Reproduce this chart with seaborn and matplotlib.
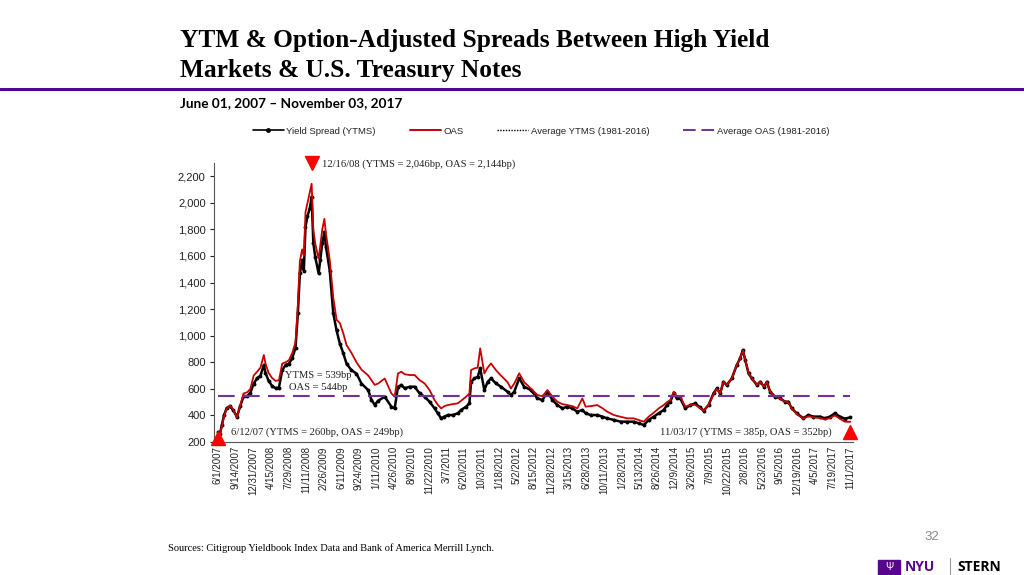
import numpy as np
import pandas as pd
import matplotlib
matplotlib.use("Agg")
import matplotlib.pyplot as plt
import matplotlib.transforms as mtrans
from matplotlib.lines import Line2D
from matplotlib.patches import Rectangle
from matplotlib.ticker import FuncFormatter
import seaborn as sns

# ---------------- data ----------------
dates = [
    "2007-06-01", "2007-06-12", "2007-06-25", "2007-07-07", "2007-07-23", "2007-08-12",
    "2007-08-31", "2007-09-23", "2007-10-13", "2007-11-02", "2007-11-25", "2007-12-13",
    "2008-01-02", "2008-01-23", "2008-02-12", "2008-03-03", "2008-03-13", "2008-04-01",
    "2008-04-23", "2008-05-13", "2008-06-02", "2008-06-22", "2008-07-12", "2008-08-01",
    "2008-08-21", "2008-09-10", "2008-09-24", "2008-10-06", "2008-10-20", "2008-10-30",
    "2008-11-09", "2008-11-21", "2008-12-05", "2008-12-16", "2008-12-26", "2009-01-07",
    "2009-01-27", "2009-02-06", "2009-02-18", "2009-03-03", "2009-03-12", "2009-04-04",
    "2009-04-25", "2009-05-15", "2009-06-04", "2009-06-24", "2009-07-14", "2009-08-13",
    "2009-09-12", "2009-10-12", "2009-11-22", "2009-12-11", "2009-12-31", "2010-01-20",
    "2010-03-01", "2010-04-10", "2010-04-30", "2010-05-20", "2010-06-09", "2010-06-29",
    "2010-07-29", "2010-08-28", "2010-09-27", "2010-10-27", "2010-11-26", "2010-12-26",
    "2011-01-15", "2011-02-04", "2011-02-24", "2011-03-16", "2011-04-15", "2011-05-15",
    "2011-06-04", "2011-07-04", "2011-07-24", "2011-08-03", "2011-08-23", "2011-09-12",
    "2011-09-27", "2011-10-22", "2011-11-11", "2011-12-01", "2011-12-31", "2012-01-30",
    "2012-03-10", "2012-03-30", "2012-04-19", "2012-05-19", "2012-06-18", "2012-07-28",
    "2012-09-06", "2012-10-06", "2012-11-05", "2012-12-05", "2013-01-04", "2013-02-03",
    "2013-03-05", "2013-04-04", "2013-05-04", "2013-06-03", "2013-06-23", "2013-07-23",
    "2013-09-01", "2013-10-01", "2013-10-31", "2013-12-10", "2014-01-19", "2014-02-28",
    "2014-04-09", "2014-05-09", "2014-06-08", "2014-07-08", "2014-08-07", "2014-09-06",
    "2014-10-06", "2014-10-26", "2014-11-15", "2014-12-05", "2014-12-25", "2015-01-14",
    "2015-02-13", "2015-03-15", "2015-04-14", "2015-05-14", "2015-06-03", "2015-07-03",
    "2015-08-02", "2015-08-22", "2015-09-11", "2015-10-01", "2015-10-21", "2015-11-20",
    "2015-12-20", "2016-01-09", "2016-01-26", "2016-02-09", "2016-02-29", "2016-03-20",
    "2016-04-19", "2016-05-09", "2016-06-02", "2016-06-18", "2016-07-08", "2016-08-07",
    "2016-09-06", "2016-10-06", "2016-10-26", "2016-11-15", "2016-12-15", "2017-01-24",
    "2017-02-23", "2017-03-25", "2017-05-04", "2017-06-03", "2017-07-03", "2017-08-02",
    "2017-09-01", "2017-10-01", "2017-11-03",
]
ytms = [
    275, 260, 330, 400, 455, 470, 440, 390, 470, 545, 545, 570,
    640, 680, 700, 780, 720, 660, 620, 605, 610, 740, 780, 790,
    830, 910, 1170, 1470, 1570, 1490, 1820, 1900, 1960, 2046, 1700, 1590,
    1470, 1570, 1700, 1780, 1670, 1490, 1170, 1040, 940, 870, 790, 740,
    715, 640, 590, 516, 480, 510, 541, 466, 453, 616, 629, 604,
    616, 616, 566, 541, 503, 453, 416, 378, 391, 403, 403, 416,
    441, 466, 491, 653, 678, 691, 754, 591, 653, 678, 641, 616,
    578, 553, 578, 679, 616, 591, 528, 516, 578, 516, 478, 453,
    466, 453, 428, 441, 416, 403, 403, 391, 378, 366, 353, 353,
    353, 341, 328, 366, 391, 416, 441, 478, 503, 566, 528, 528,
    453, 478, 490, 460, 435, 478, 566, 603, 566, 653, 629, 678,
    779, 829, 892, 817, 716, 678, 629, 653, 616, 653, 578, 541,
    528, 503, 503, 453, 416, 378, 403, 391, 391, 378, 391, 416,
    391, 376, 385,
]
oas = [
    265, 249, 320, 390, 450, 475, 445, 385, 475, 565, 575, 600,
    700, 730, 760, 855, 790, 720, 680, 660, 665, 790, 800, 815,
    870, 950, 1230, 1560, 1650, 1600, 1930, 2000, 2080, 2144, 1800, 1690,
    1580, 1680, 1800, 1880, 1770, 1570, 1290, 1120, 1095, 1020, 930, 870,
    800, 745, 700, 666, 630, 640, 678, 566, 541, 716, 729, 710,
    704, 704, 666, 641, 591, 516, 480, 453, 470, 478, 485, 491,
    510, 541, 566, 741, 754, 760, 905, 716, 760, 791, 741, 700,
    650, 603, 640, 717, 650, 603, 553, 545, 591, 541, 503, 485,
    478, 470, 453, 528, 466, 470, 478, 455, 428, 403, 390, 378,
    378, 365, 353, 391, 420, 453, 478, 500, 516, 578, 541, 541,
    466, 478, 480, 453, 435, 478, 560, 600, 566, 653, 629, 678,
    779, 829, 887, 820, 720, 680, 629, 653, 616, 653, 578, 541,
    528, 503, 500, 453, 410, 375, 395, 385, 380, 370, 380, 400,
    375, 353, 352,
]
avg_ytms = 539
avg_oas = 544
tick_labels = [
    "6/1/2007", "9/14/2007", "12/31/2007", "4/15/2008", "7/29/2008", "11/11/2008",
    "2/26/2009", "6/11/2009", "9/24/2009", "1/11/2010", "4/26/2010", "8/9/2010",
    "11/22/2010", "3/7/2011", "6/20/2011", "10/3/2011", "1/18/2012", "5/2/2012",
    "8/15/2012", "11/28/2012", "3/15/2013", "6/28/2013", "10/11/2013", "1/28/2014",
    "5/13/2014", "8/26/2014", "12/9/2014", "3/26/2015", "7/9/2015", "10/22/2015",
    "2/8/2016", "5/23/2016", "9/5/2016", "12/19/2016", "4/5/2017", "7/19/2017",
    "11/1/2017",
]
y_ticks = [200, 400, 600, 800, 1000, 1200, 1400, 1600, 1800, 2000, 2200]
series_names = ["Yield Spread (YTMS)", "OAS", "Average YTMS (1981-2016)", "Average OAS (1981-2016)"]

# ---------------- styling ----------------
sns.set_theme(style="white")
plt.rcParams['font.family'] = ['Liberation Sans', 'DejaVu Sans']

W, H = 1024, 575
fig = plt.figure(figsize=(W / 100, H / 100), dpi=100)
fig.patch.set_facecolor("white")

def fx(px):
    return px / W

def fy(py):
    return 1 - py / H

ax_l, ax_r, ax_t, ax_b = 214, 853, 163, 442
ax = fig.add_axes([fx(ax_l), fy(ax_b), (ax_r - ax_l) / W, (ax_b - ax_t) / H])
ax.set_facecolor("white")

df = pd.DataFrame({"date": pd.to_datetime(dates), "YTMS": ytms, "OAS": oas})

RED = "#C80000"
PURPLE = "#7030A0"

sns.lineplot(data=df, x="date", y="YTMS", ax=ax, color="black", linewidth=1.8,
             marker="o", markersize=2.8, markeredgewidth=0, zorder=3)
sns.lineplot(data=df, x="date", y="OAS", ax=ax, color=RED, linewidth=1.3, zorder=4)
ax.hlines(avg_oas, df["date"].min(), df["date"].max(), colors=PURPLE,
          linestyles=(0, (8, 4)), linewidth=1.5, zorder=5)

ax.set_xlabel("")
ax.set_ylabel("")
if ax.get_legend() is not None:
    ax.get_legend().remove()

x0 = pd.Timestamp("2007-06-01")
ax.set_xlim(x0 - pd.Timedelta(days=24), x0 + pd.Timedelta(days=3824))
ax.set_ylim(200, 2300)
ax.set_yticks(y_ticks)
ax.yaxis.set_major_formatter(FuncFormatter(lambda v, p: f"{int(v):,}"))
ax.set_xticks(pd.to_datetime(tick_labels, format="%m/%d/%Y"))
ax.set_xticklabels(tick_labels, rotation=90, fontsize=7, color="#222222")
ax.tick_params(axis="y", labelsize=8, colors="#222222", length=3, width=0.8,
               direction="out", left=True, pad=3)
ax.tick_params(axis="x", length=0, pad=3)
for s in ["top", "right"]:
    ax.spines[s].set_visible(False)
for s in ["left", "bottom"]:
    ax.spines[s].set_color("#555555")
    ax.spines[s].set_linewidth(0.8)
ax.grid(False)

# marker triangles for highlighted points
imax = int(np.argmax(ytms))
imin = int(np.argmin(ytms))
blend = mtrans.blended_transform_factory(ax.transData, ax.transAxes)
ax.plot([df["date"].iloc[imax]], [1.0], marker="v", color="#FF0000", markersize=9.5,
        transform=blend, clip_on=False, zorder=6, linestyle="none")
ax.plot([df["date"].iloc[0]], [0.015], marker="^", color="#FF0000", markersize=9.5,
        transform=blend, clip_on=False, zorder=6, linestyle="none")
ax.plot([df["date"].iloc[-1]], [0.036], marker="^", color="#FF0000", markersize=9.5,
        transform=blend, clip_on=False, zorder=6, linestyle="none")

serif = ["Liberation Serif", "DejaVu Serif"]
def axfx(px):
    return (px - ax_l) / (ax_r - ax_l)
def axfy(py):
    return (ax_b - py) / (ax_b - ax_t)

ax.text(axfx(322), axfy(164),
        f"12/16/08 (YTMS = {ytms[imax]:,}bp, OAS = {oas[imax]:,}bp)",
        transform=ax.transAxes, family=serif, fontsize=7.6, va="center", ha="left",
        color="#222222", clip_on=False)
ax.text(axfx(318), axfy(375), f"YTMS = {avg_ytms}bp", transform=ax.transAxes,
        family=serif, fontsize=7.6, va="center", ha="center", color="#222222", zorder=1)
ax.text(axfx(318), axfy(387), f"OAS = {avg_oas}bp", transform=ax.transAxes,
        family=serif, fontsize=7.6, va="center", ha="center", color="#222222", zorder=1)
ax.text(axfx(231), axfy(432),
        f"6/12/07 (YTMS = {ytms[imin]}bp, OAS = {oas[imin]}bp)",
        transform=ax.transAxes, family=serif, fontsize=7.6, va="center", ha="left",
        color="#222222")
ax.text(axfx(660), axfy(432),
        f"11/03/17 (YTMS = {ytms[-1]}p, OAS = {oas[-1]}bp)",
        transform=ax.transAxes, family=serif, fontsize=7.6, va="center", ha="left",
        color="#222222")

# legend
handles = [
    Line2D([], [], color="black", lw=1.2, marker="o", markersize=2.5, markevery=[1]),
    Line2D([], [], color=RED, lw=1.4),
    Line2D([], [], color="black", lw=1.0, ls=(0, (1, 1))),
    Line2D([], [], color=PURPLE, lw=1.4, ls=(0, (6.5, 3))),
]
fig.legend(handles, series_names, loc="center", bbox_to_anchor=(fx(541), fy(131)),
           ncol=4, frameon=False, fontsize=6.8, handlelength=3.3, handletextpad=0.25,
           columnspacing=3.6, labelcolor="#222222")

# titles & page decorations
fig.text(fx(180), fy(40), "YTM & Option-Adjusted Spreads Between High Yield",
         family=serif, fontsize=18.3, fontweight="bold", va="center", ha="left", color="black")
fig.text(fx(180), fy(70), "Markets & U.S. Treasury Notes",
         family=serif, fontsize=18.3, fontweight="bold", va="center", ha="left", color="black")
fig.add_artist(Line2D([0, 1], [fy(89), fy(89)], color="#57068C", lw=2.2,
                      transform=fig.transFigure))
fig.text(fx(180), fy(103), "June 01, 2007 \u2013 November 03, 2017",
         family=["Lato", "DejaVu Sans"], fontsize=9.8, fontweight="bold",
         va="center", ha="left", color="black")
fig.text(fx(168), fy(548),
         "Sources: Citigroup Yieldbook Index Data and Bank of America Merrill Lynch.",
         family=serif, fontsize=7.5, va="center", ha="left", color="black")
fig.text(fx(932), fy(537), "32", fontsize=9.5, color="#8C8C8C", va="center", ha="center")

# NYU Stern logo
fig.add_artist(Rectangle((fx(878), fy(576)), (900 - 878) / W, (576 - 560) / H,
                         transform=fig.transFigure, color="#57068C"))
fig.text(fx(889), fy(567), "\u03a8", fontsize=7, color="white", ha="center", va="center")
fig.text(fx(905), fy(567), "NYU", family=["Open Sans", "DejaVu Sans"], fontsize=10,
         fontweight="bold", color="#57068C", ha="left", va="center")
fig.add_artist(Line2D([fx(950), fx(950)], [fy(576), fy(558)], color="#999999", lw=0.8,
                      transform=fig.transFigure))
fig.text(fx(957), fy(567), "STERN", family=["Open Sans", "DejaVu Sans"], fontsize=10,
         fontweight="bold", color="black", ha="left", va="center")

fig.savefig("out.png", dpi=100, facecolor="white")
